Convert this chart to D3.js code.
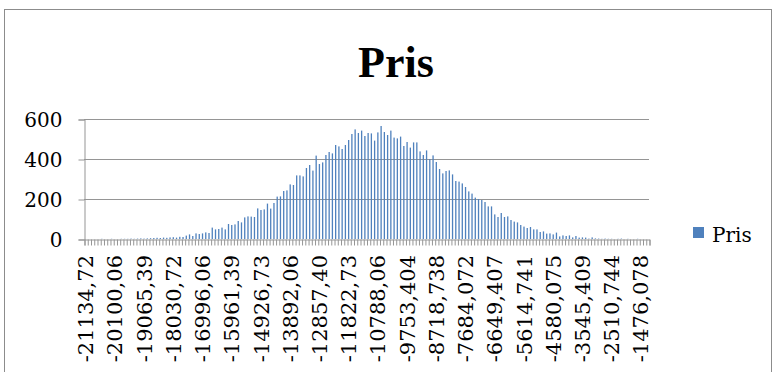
<!DOCTYPE html>
<html>
<head>
<meta charset="utf-8">
<script src="https://cdn.jsdelivr.net/npm/d3@7"></script>
<style>
  body { margin: 0; background: #fff; }
  svg { display: block; }
</style>
</head>
<body>
<svg id="chart"></svg>
<script>
// bar heights, one per category (174 bins)
const counts = [
  0,0,0,0,0,1,0,0,1,0,
  0,1,1,1,2,1,2,3,2,3,
  4,5,6,5,7,6,8,9,7,11,
  10,17,23,15,28,25,28,33,30,
  57,48,50,57,48,75,70,73,90,
  83,108,113,112,110,153,145,148,177,152,
  180,212,213,240,243,273,270,318,318,313,
  355,370,342,417,375,383,420,435,428,470,
  463,450,470,495,525,548,530,542,515,530,
  528,492,533,565,535,520,542,507,503,512,
  465,485,457,483,483,438,420,443,400,418,
  385,350,328,340,343,323,290,287,278,260,
  238,227,207,200,
  195,185,163,163,123,110,130,110,113,95,
  87,83,70,62,55,60,48,48,35,38,
  27,28,23,32,13,18,15,18,8,15,
  7,8,7,2,8,3,2,1,2,1,
  1,0,1,2,0,1,0,0,1,0,0,0
];

// category labels shown on the axis (every 9th bin)
const tickLabels = [
  "-21134,72","-20100,06","-19065,39","-18030,72","-16996,06",
  "-15961,39","-14926,73","-13892,06","-12857,40","-11822,73",
  "-10788,06","-9753,404","-8718,738","-7684,072","-6649,407",
  "-5614,741","-4580,075","-3545,409","-2510,744","-1476,078"
];
const labelEvery = 9;

const yTicks = [0, 200, 400, 600];
const seriesName = "Pris";
const title = "Pris";

const W = 774, H = 372;
const plotLeft = 84, plotRight = 649, plotTop = 119, plotBottom = 239;
const serif = "'DejaVu Serif', serif";

const svg = d3.select("#chart").attr("width", W).attr("height", H);

// chart frame
svg.append("rect")
  .attr("x", 4.5).attr("y", 9.5)
  .attr("width", 767).attr("height", 400)
  .attr("fill", "#fff")
  .attr("stroke", "#8c8c8c");

const idx = d3.range(counts.length);

const x = d3.scaleBand()
  .domain(idx)
  .range([plotLeft, plotRight])
  .paddingInner(0.6)
  .paddingOuter(0.3);

const xEdges = d3.scaleLinear().domain([0, counts.length]).range([plotLeft, plotRight]);

const y = d3.scaleLinear().domain([0, 600]).range([plotBottom, plotTop]);

// gridlines
svg.append("g")
  .selectAll("line")
  .data(yTicks.filter(d => d > 0))
  .join("line")
  .attr("x1", plotLeft).attr("x2", plotRight)
  .attr("y1", d => Math.round(y(d)) + 0.5)
  .attr("y2", d => Math.round(y(d)) + 0.5)
  .attr("stroke", "#959595");

// bars
svg.append("g")
  .selectAll("rect")
  .data(idx)
  .join("rect")
  .attr("x", i => x(i))
  .attr("width", x.bandwidth())
  .attr("y", i => y(counts[i]))
  .attr("height", i => y(0) - y(counts[i]))
  .attr("fill", "#4f81bd");

// y axis
const yAxis = svg.append("g")
  .attr("transform", `translate(${plotLeft + 0.5},0.5)`)
  .call(d3.axisLeft(y).tickValues(yTicks).tickSize(6).tickPadding(16));
yAxis.selectAll("line,path").attr("stroke", "#959595");
yAxis.selectAll("text")
  .attr("font-family", serif).attr("font-size", 20).attr("fill", "#000")
  .attr("dy", "0.36em");

// tick comb between categories
const comb = svg.append("g")
  .attr("transform", `translate(0.5,${plotBottom + 0.5})`)
  .call(d3.axisBottom(xEdges).tickValues(d3.range(counts.length + 1)).tickSize(6).tickFormat(""));
comb.selectAll("line,path").attr("stroke", "#959595");

// category labels
const xAxis = svg.append("g")
  .attr("transform", `translate(0,${plotBottom})`)
  .call(d3.axisBottom(x)
    .tickValues(idx.filter(i => i % labelEvery === 0))
    .tickFormat(i => tickLabels[i / labelEvery])
    .tickSize(0));
xAxis.select(".domain").remove();
xAxis.selectAll("text")
  .attr("font-family", serif).attr("font-size", 21).attr("fill", "#000")
  .attr("text-anchor", "end")
  .attr("transform", "rotate(-90)")
  .attr("x", -16).attr("y", 0).attr("dy", "0.36em");

// title
svg.append("text")
  .attr("x", 396).attr("y", 77)
  .attr("text-anchor", "middle")
  .attr("font-family", "'Liberation Serif', serif")
  .attr("font-weight", "bold")
  .attr("font-size", 44)
  .text(title);

// legend
svg.append("rect")
  .attr("x", 693).attr("y", 227)
  .attr("width", 11).attr("height", 11)
  .attr("fill", "#4f81bd");
svg.append("text")
  .attr("x", 712).attr("y", 242)
  .attr("font-family", serif).attr("font-size", 20)
  .text(seriesName);
</script>
</body>
</html>
